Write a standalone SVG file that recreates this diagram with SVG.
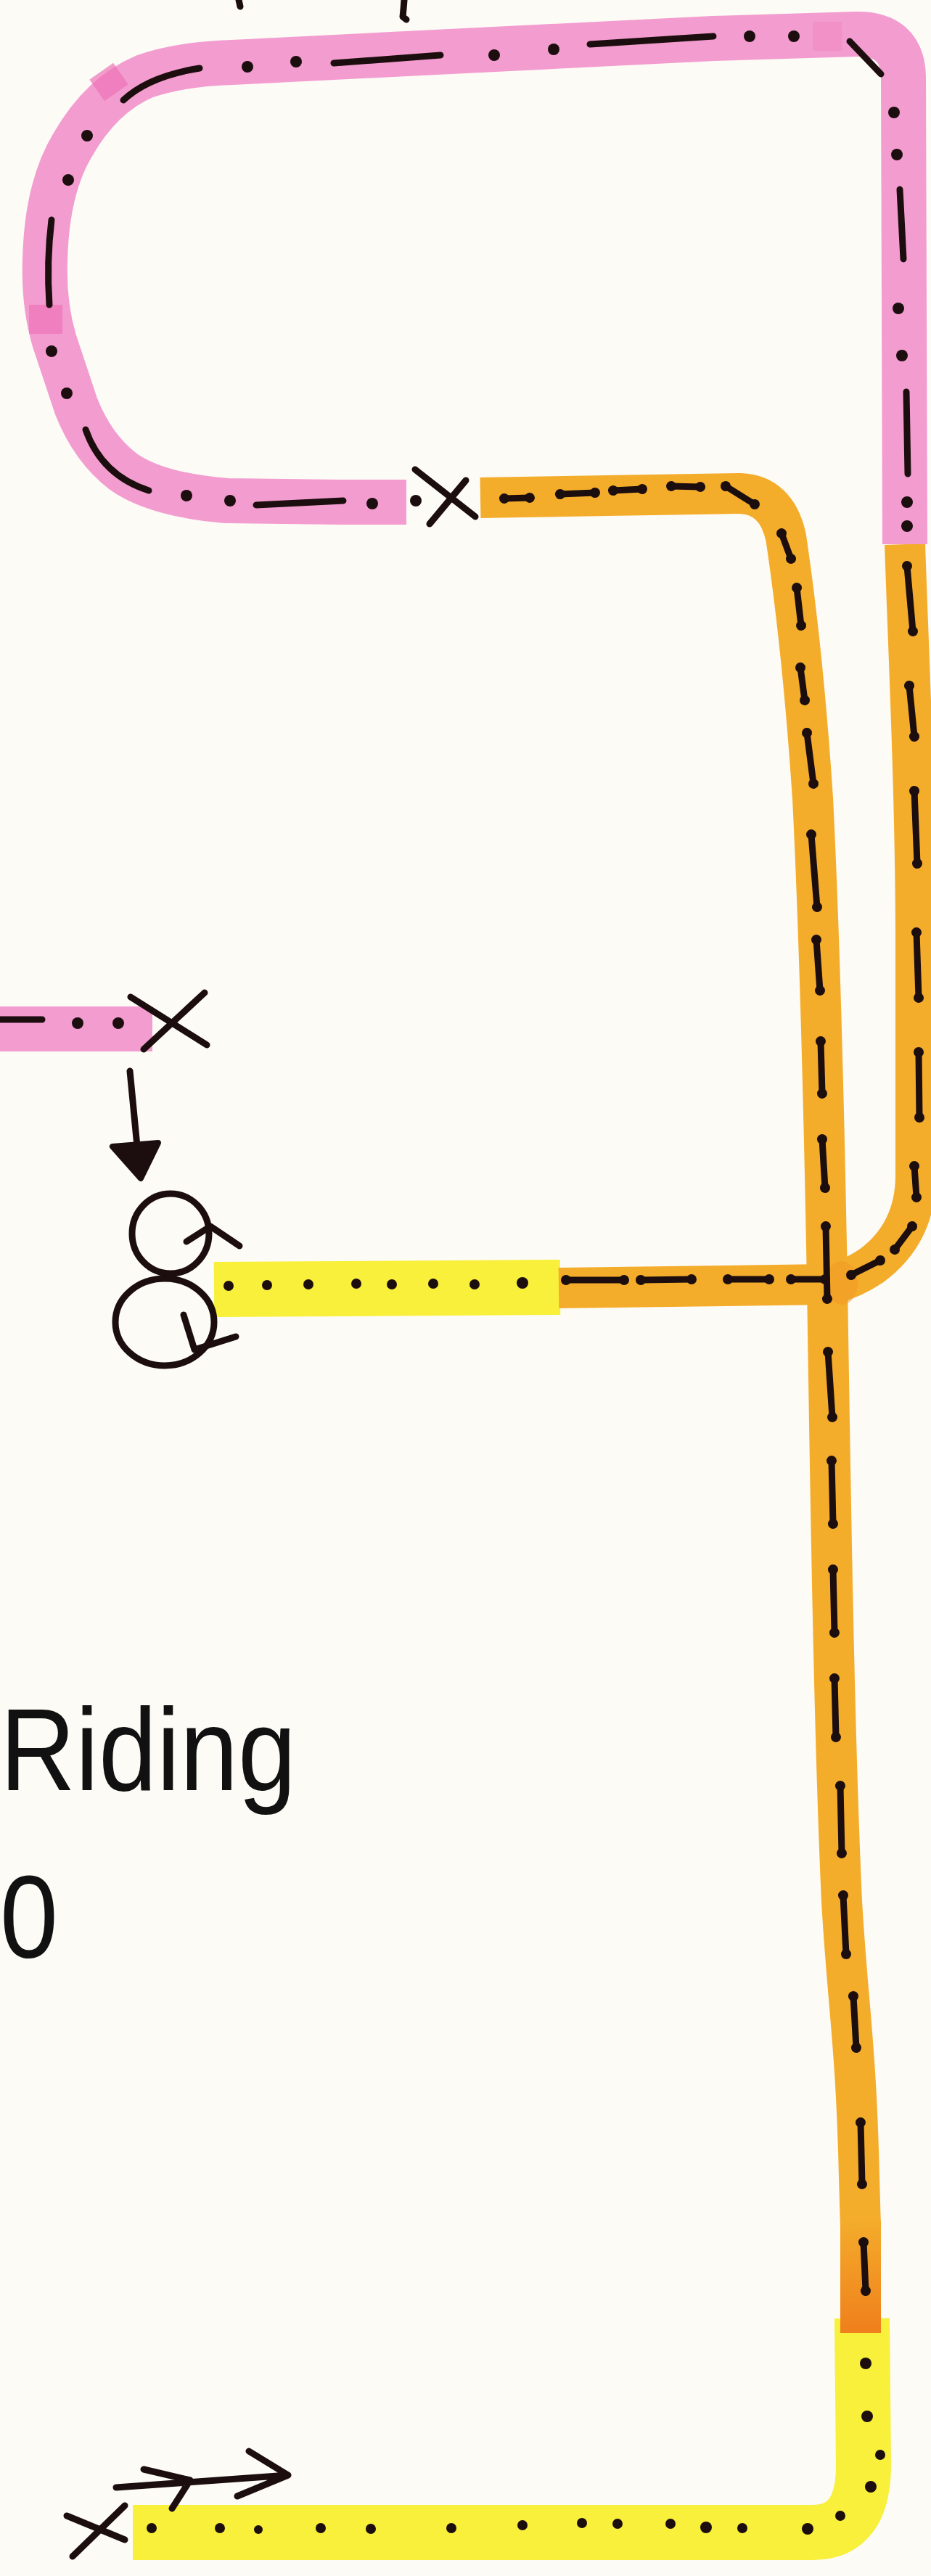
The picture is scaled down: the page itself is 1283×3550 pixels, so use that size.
<svg xmlns="http://www.w3.org/2000/svg" width="1283" height="3550" viewBox="0 0 1283 3550">
<defs>
<style>
.pk{fill:none;stroke:#f39ccf;stroke-width:62;stroke-linejoin:round;stroke-linecap:butt}
.or{fill:none;stroke:#f4ac2b;stroke-width:56;stroke-linejoin:round;stroke-linecap:butt}
.ye{fill:none;stroke:#f8f03a;stroke-width:76;stroke-linejoin:round;stroke-linecap:butt}
.ink{fill:none;stroke:#1c0e0e;stroke-width:9;stroke-linecap:round;stroke-linejoin:round}
.od{fill:none;stroke:#1c0e0e;stroke-width:9;stroke-linecap:round;marker-start:url(#b);marker-end:url(#b)}
.dot{fill:#1c0e0e}
.lbl{font-family:"Liberation Sans",Arial,sans-serif;font-size:162px;fill:#111}
</style>
<marker id="b" viewBox="-8 -8 16 16" markerWidth="16" markerHeight="16" markerUnits="userSpaceOnUse" orient="auto"><circle r="7" fill="#1c0e0e"/></marker>
<linearGradient id="oend" gradientUnits="userSpaceOnUse" x1="0" y1="3060" x2="0" y2="3215"><stop offset="0" stop-color="#f4ac2b"/><stop offset="1" stop-color="#ef7f1c"/></linearGradient>
</defs>
<rect width="1283" height="3550" fill="#fcfbf6"/>

<g id="top-ticks">
<path class="ink" d="M329,0 L331,9"/>
<path class="ink" d="M557,0 Q556,14 555,23 L560,27"/>
</g>

<g id="yellow-routes">
<path class="ye" d="M295,1777 L772,1774"/>
<path class="ye" d="M1188,3195 L1190,3400 Q1189,3490 1120,3490 L183,3490"/>
</g>

<g id="orange-routes">
<path class="or" d="M662,686 L1020,680 Q1070,682 1083,740 C1095,820 1110,950 1120,1100 C1130,1300 1136,1550 1140,1770 C1145,2100 1150,2400 1160,2620 C1168,2760 1180,2820 1184,3000 L1186,3070"/>
<path d="M1186,3060 L1186,3215" fill="none" stroke="url(#oend)" stroke-width="56"/>
<path class="or" d="M1247,750 C1252,900 1262,1100 1262,1300 L1262,1620 Q1262,1700 1200,1745 Q1170,1765 1140,1770"/>
<path class="or" d="M770,1775 L1140,1770"/>
<ellipse cx="1160" cy="1768" rx="22" ry="30" fill="#f09a24" opacity="0.55"/>
</g>

<g id="pink-loop">
<path class="pk" d="M560,692 L470,692 L312,690 Q215,682 170,650 Q128,618 105,560 L75,470 Q60,420 62,360 Q64,260 100,200 Q140,130 200,105 Q250,88 320,86 L600,72 L983,53 L1180,47 Q1243,46 1245,105 L1247,750"/>
<rect x="130" y="95" width="40" height="36" fill="#ee74b8" opacity="0.7" transform="rotate(-35 150 113)"/>
<rect x="40" y="420" width="46" height="40" fill="#ee74b8" opacity="0.7"/>
<rect x="1120" y="30" width="40" height="40" fill="#ef86c2" opacity="0.5"/>
</g>

<g id="pink-stub">
<path class="pk" d="M0,1418 L210,1418" stroke-width="56"/>
</g>

<g id="marks">
<path class="ink" d="M170,138 Q205,105 275,94"/>
<circle class="dot" cx="341" cy="92" r="8"/><circle class="dot" cx="408" cy="85" r="8"/>
<path class="ink" d="M460,87 L607,76"/>
<circle class="dot" cx="681" cy="76" r="8"/><circle class="dot" cx="763" cy="68" r="8"/>
<path class="ink" d="M813,61 L983,50"/>
<circle class="dot" cx="1033" cy="50" r="8"/><circle class="dot" cx="1094" cy="50" r="8"/>
<path class="ink" d="M1171,57 L1214,102"/>
<circle class="dot" cx="1232" cy="155" r="8"/><circle class="dot" cx="1236" cy="213" r="8"/>
<path class="ink" d="M1240,261 L1245,357"/>
<circle class="dot" cx="1238" cy="425" r="8"/><circle class="dot" cx="1243" cy="490" r="8"/>
<path class="ink" d="M1249,540 L1251,653"/>
<circle class="dot" cx="1250" cy="692" r="8"/><circle class="dot" cx="1250" cy="725" r="8"/>
<circle class="dot" cx="120" cy="187" r="8"/><circle class="dot" cx="94" cy="248" r="8"/>
<path class="ink" d="M71,303 Q64,360 68,420"/>
<circle class="dot" cx="71" cy="484" r="8"/><circle class="dot" cx="92" cy="542" r="8"/>
<path class="ink" d="M118,592 Q140,655 205,676"/>
<circle class="dot" cx="257" cy="683" r="8"/><circle class="dot" cx="317" cy="690" r="8"/>
<path class="ink" d="M353,696 L473,690"/>
<circle class="dot" cx="513" cy="694" r="8"/><circle class="dot" cx="573" cy="690" r="8"/>
<path class="ink" d="M0,1405 L58,1405"/>
<circle class="dot" cx="107" cy="1410" r="8"/><circle class="dot" cx="163" cy="1410" r="8"/>

<line class="od" x1="695" y1="687" x2="730" y2="686"/>
<line class="od" x1="772" y1="681" x2="820" y2="679"/>
<line class="od" x1="845" y1="676" x2="885" y2="674"/>
<line class="od" x1="925" y1="670" x2="965" y2="671"/>
<line class="od" x1="1000" y1="670" x2="1040" y2="695"/>
<line class="od" x1="1077" y1="735" x2="1090" y2="770"/>
<line class="od" x1="1098" y1="810" x2="1104" y2="862"/>
<line class="od" x1="1103" y1="920" x2="1109" y2="965"/>
<line class="od" x1="1112" y1="1010" x2="1121" y2="1080"/>
<line class="od" x1="1118" y1="1150" x2="1126" y2="1250"/>
<line class="od" x1="1125" y1="1295" x2="1130" y2="1365"/>
<line class="od" x1="1131" y1="1435" x2="1133" y2="1507"/>
<line class="od" x1="1133" y1="1570" x2="1137" y2="1637"/>
<line class="od" x1="1138" y1="1690" x2="1140" y2="1790"/>
<line class="od" x1="1141" y1="1863" x2="1147" y2="1953"/>
<line class="od" x1="1146" y1="2013" x2="1148" y2="2100"/>
<line class="od" x1="1148" y1="2163" x2="1150" y2="2250"/>
<line class="od" x1="1150" y1="2313" x2="1152" y2="2394"/>
<line class="od" x1="1158" y1="2461" x2="1160" y2="2554"/>
<line class="od" x1="1162" y1="2612" x2="1166" y2="2693"/>
<line class="od" x1="1176" y1="2751" x2="1180" y2="2822"/>
<line class="od" x1="1186" y1="2925" x2="1188" y2="3010"/>
<line class="od" x1="1190" y1="3090" x2="1193" y2="3157"/>
<line class="od" x1="1250" y1="780" x2="1258" y2="870"/>
<line class="od" x1="1253" y1="945" x2="1260" y2="1015"/>
<line class="od" x1="1260" y1="1090" x2="1264" y2="1190"/>
<line class="od" x1="1263" y1="1285" x2="1266" y2="1375"/>
<line class="od" x1="1266" y1="1450" x2="1267" y2="1540"/>
<line class="od" x1="1260" y1="1607" x2="1263" y2="1650"/>
<line class="od" x1="1257" y1="1690" x2="1233" y2="1722"/>
<line class="od" x1="1213" y1="1737" x2="1173" y2="1757"/>
<line class="od" x1="780" y1="1764" x2="860" y2="1764"/>
<line class="od" x1="883" y1="1764" x2="953" y2="1763"/>
<line class="od" x1="1003" y1="1763" x2="1060" y2="1763"/>
<line class="od" x1="1090" y1="1763" x2="1137" y2="1763"/>

<g class="dot">
<circle cx="315" cy="1772" r="7"/><circle cx="368" cy="1771" r="7"/><circle cx="425" cy="1770" r="7"/><circle cx="491" cy="1769" r="7"/><circle cx="540" cy="1770" r="7"/><circle cx="597" cy="1769" r="7"/><circle cx="654" cy="1770" r="7"/><circle cx="720" cy="1768" r="8"/>
<circle cx="1193" cy="3257" r="8"/><circle cx="1195" cy="3330" r="8"/><circle cx="1213" cy="3383" r="7"/><circle cx="1200" cy="3427" r="8"/><circle cx="1158" cy="3467" r="7"/>
<circle cx="1113" cy="3485" r="8"/><circle cx="1023" cy="3484" r="7"/><circle cx="973" cy="3483" r="8"/><circle cx="924" cy="3478" r="7"/><circle cx="851" cy="3478" r="7"/><circle cx="802" cy="3477" r="7"/><circle cx="720" cy="3480" r="7"/><circle cx="622" cy="3484" r="7"/><circle cx="511" cy="3485" r="7"/><circle cx="442" cy="3484" r="7"/><circle cx="356" cy="3486" r="6"/><circle cx="303" cy="3484" r="7"/><circle cx="209" cy="3484" r="7"/>
</g>
</g>

<g id="symbols">
<path class="ink" d="M572,647 L655,712 M642,662 L592,722"/>
<path class="ink" d="M180,1374 L285,1440 M282,1368 L198,1446"/>
<path class="ink" d="M179,1476 L190,1590" stroke-width="7"/>
<path d="M155,1580 L218,1575 L194,1624 Z" fill="#1c0e0e" stroke="#1c0e0e" stroke-width="8" stroke-linejoin="round"/>
<ellipse class="ink" cx="235" cy="1700" rx="53" ry="55" stroke-width="11"/>
<path class="ink" d="M257,1711 L290,1690 L330,1717" stroke-width="11"/>
<ellipse class="ink" cx="227" cy="1822" rx="68" ry="60" stroke-width="11"/>
<path class="ink" d="M253,1812 L268,1860 L325,1842" stroke-width="11"/>
<path class="ink" d="M92,3467 L172,3500 M172,3453 L100,3523" stroke-width="10"/>
<path class="ink" d="M160,3428 L397,3411 M198,3403 L262,3418 L237,3457 M343,3378 L397,3411 L327,3440" stroke-width="11"/>
</g>

<g id="labels">
<text class="lbl" x="0" y="2467" textLength="408" lengthAdjust="spacingAndGlyphs">Riding</text>
<text class="lbl" x="0" y="2697" textLength="80" lengthAdjust="spacingAndGlyphs">0</text>
</g>
</svg>
